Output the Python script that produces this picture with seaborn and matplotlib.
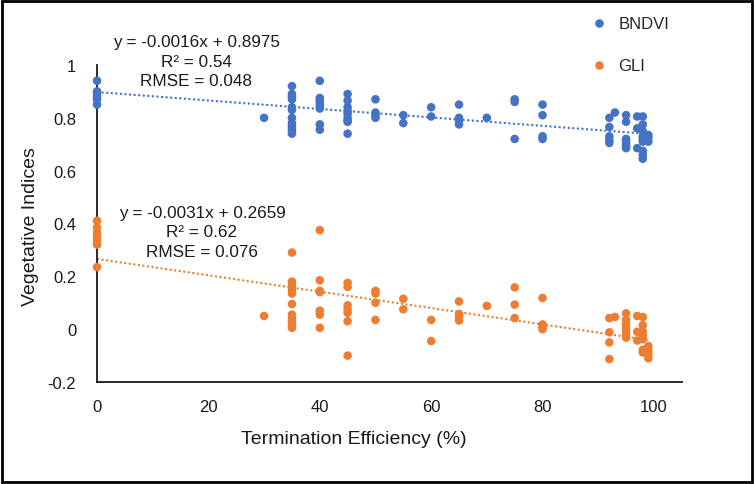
import matplotlib
matplotlib.use("Agg")
import matplotlib.pyplot as plt
from matplotlib.patches import Rectangle
import numpy as np
import pandas as pd
import seaborn as sns


sns.set_theme(style="white")
plt.rcParams["font.family"] = ["Liberation Sans", "DejaVu Sans"]

# termination efficiency (%) and index values
bndvi_te = [0, 0, 0, 0, 0, 0,
            30,
            35, 35, 35, 35, 35, 35, 35, 35, 35, 35, 35, 35,
            40, 40, 40, 40, 40, 40, 40, 40,
            45, 45, 45, 45, 45, 45, 45, 45, 45,
            50, 50, 50, 50,
            55, 55,
            60, 60,
            65, 65, 65, 65,
            70,
            75, 75, 75,
            80, 80, 80, 80,
            92, 92, 92, 92, 92,
            93,
            95, 95, 95, 95, 95, 95, 95,
            97, 97, 97,
            98, 98, 98, 98, 98, 98, 98, 98, 98,
            99, 99, 99]
bndvi_val = [0.94, 0.90, 0.89, 0.88, 0.87, 0.85,
             0.80,
             0.92, 0.89, 0.88, 0.87, 0.84, 0.83, 0.80, 0.78, 0.77, 0.76, 0.75, 0.74,
             0.94, 0.875, 0.865, 0.855, 0.845, 0.835, 0.775, 0.755,
             0.89, 0.865, 0.84, 0.825, 0.815, 0.80, 0.79, 0.785, 0.74,
             0.87, 0.82, 0.81, 0.80,
             0.81, 0.78,
             0.84, 0.805,
             0.85, 0.80, 0.79, 0.775,
             0.80,
             0.87, 0.86, 0.72,
             0.85, 0.81, 0.73, 0.72,
             0.80, 0.765, 0.73, 0.715, 0.705,
             0.82,
             0.81, 0.785, 0.72, 0.71, 0.70, 0.69, 0.685,
             0.805, 0.76, 0.685,
             0.805, 0.775, 0.75, 0.73, 0.72, 0.71, 0.675, 0.66, 0.645,
             0.735, 0.725, 0.71]

gli_te = [0, 0, 0, 0, 0, 0, 0,
          30,
          35, 35, 35, 35, 35, 35, 35, 35, 35, 35, 35,
          40, 40, 40, 40, 40, 40, 40,
          45, 45, 45, 45, 45, 45, 45,
          50, 50, 50, 50,
          55, 55,
          60, 60,
          65, 65, 65, 65,
          70,
          75, 75, 75,
          80, 80, 80, 80,
          92, 92, 92, 92,
          93,
          95, 95, 95, 95, 95, 95, 95,
          97, 97, 97,
          98, 98, 98, 98, 98, 98, 98,
          99, 99, 99, 99]
gli_val = [0.41, 0.385, 0.365, 0.35, 0.335, 0.32, 0.235,
           0.05,
           0.29, 0.18, 0.165, 0.15, 0.135, 0.095, 0.055, 0.04, 0.03, 0.015, 0.005,
           0.375, 0.185, 0.145, 0.14, 0.07, 0.055, 0.005,
           0.175, 0.16, 0.09, 0.075, 0.062, 0.03, -0.10,
           0.145, 0.135, 0.10, 0.035,
           0.115, 0.075,
           0.035, -0.045,
           0.105, 0.058, 0.048, 0.033,
           0.088,
           0.158, 0.093, 0.042,
           0.118, 0.018, 0.008, 0.0,
           0.042, -0.012, -0.05, -0.113,
           0.046,
           0.06, 0.035, 0.018, 0.005, -0.007, -0.02, -0.032,
           0.05, -0.01, -0.043,
           0.046, 0.015, -0.01, -0.023, -0.038, -0.078, -0.088,
           -0.064, -0.082, -0.095, -0.11]

# trendline coefficients and fit stats as printed on the chart
bndvi_fit = (-0.0016, 0.8975)
gli_fit = (-0.0031, 0.2659)
bndvi_label = "y = -0.0016x + 0.8975\nR² = 0.54\nRMSE = 0.048"
gli_label = "y = -0.0031x + 0.2659\nR² = 0.62\nRMSE = 0.076"

x_ticks = [0, 20, 40, 60, 80, 100]
y_ticks = [-0.2, 0, 0.2, 0.4, 0.6, 0.8, 1]
y_tick_labels = ["-0.2", "0", "0.2", "0.4", "0.6", "0.8", "1"]

BLUE = "#4472C4"
ORANGE = "#ED7D31"

df = pd.concat([
    pd.DataFrame({"te": bndvi_te, "value": bndvi_val, "index": "BNDVI"}),
    pd.DataFrame({"te": gli_te, "value": gli_val, "index": "GLI"}),
])

fig = plt.figure(figsize=(7.55, 4.85), dpi=100)
ax = fig.add_axes([0.1285, 0.2103, 0.7745, 0.6537])

sns.scatterplot(data=df, x="te", y="value", hue="index",
                palette={"BNDVI": BLUE, "GLI": ORANGE},
                s=38, linewidth=0, ax=ax, zorder=3, clip_on=False)

for (slope, intercept), xs, color in [(bndvi_fit, bndvi_te, BLUE), (gli_fit, gli_te, ORANGE)]:
    line_x = np.array([min(xs), max(xs)])
    ax.plot(line_x, slope * line_x + intercept, linestyle=(0, (1, 1.2)),
            color=color, linewidth=1.5, zorder=2)

ax.set_xlim(0, 105)
ax.set_ylim(-0.2, 1.0)
ax.set_xticks(x_ticks)
ax.set_yticks(y_ticks)
ax.set_yticklabels(y_tick_labels)
ax.tick_params(axis="both", length=0, labelsize=12, colors="#1a1a1a")
ax.tick_params(axis="x", pad=12)
ax.tick_params(axis="y", pad=15)

for side in ["top", "right"]:
    ax.spines[side].set_visible(False)
for side in ["left", "bottom"]:
    ax.spines[side].set_color("#1a1a1a")
    ax.spines[side].set_linewidth(1.3)

ax.set_xlabel("Termination Efficiency (%)", fontsize=14, color="#1a1a1a")
ax.set_ylabel("Vegetative Indices", fontsize=14, color="#1a1a1a")
ax.xaxis.set_label_coords(0.439, -0.15)
ax.yaxis.set_label_coords(-0.10, 0.495)

fig.text(0.2596, 0.872, bndvi_label, ha="center", va="center",
         multialignment="center", fontsize=12.3, linespacing=1.36, color="#1a1a1a")
fig.text(0.2675, 0.5196, gli_label, ha="center", va="center",
         multialignment="center", fontsize=12.3, linespacing=1.36, color="#1a1a1a")

handles, labels = ax.get_legend_handles_labels()
ax.legend(handles, labels, loc="upper left", bbox_to_anchor=(594 / 755, 0.964),
          bbox_transform=fig.transFigure, frameon=False, fontsize=12,
          handlelength=0.6, handletextpad=0.85, labelspacing=1.62,
          borderpad=0, borderaxespad=0, markerscale=1.0)

fig.add_artist(Rectangle((0.003, 0.005), 0.993, 0.99, transform=fig.transFigure,
                         fill=False, edgecolor="black", linewidth=2))

fig.savefig("out.png", dpi=100)
plt.close(fig)
